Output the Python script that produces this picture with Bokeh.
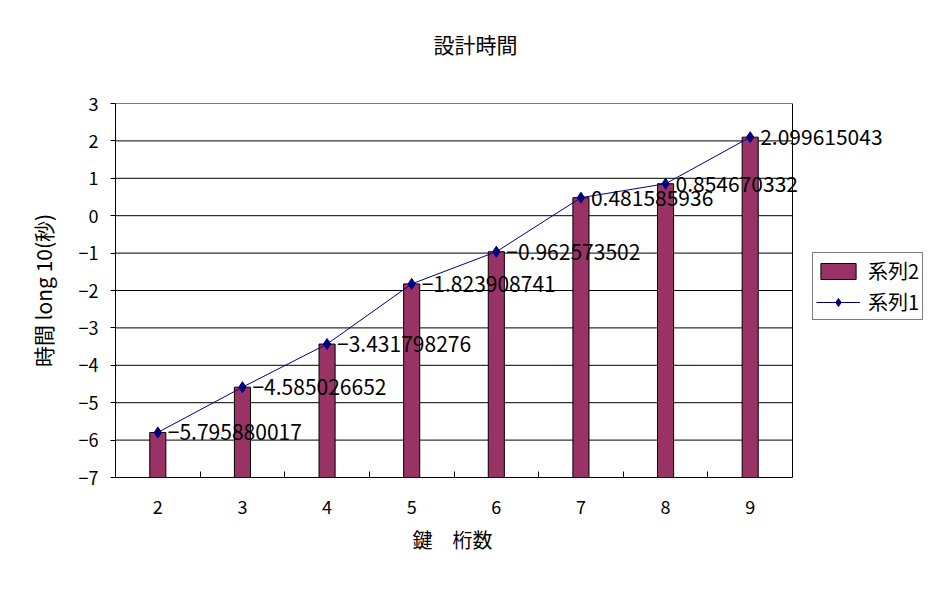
from bokeh.plotting import figure
from bokeh.models import (ColumnDataSource, FixedTicker, Range1d, Legend, LegendItem, Title)
from bokeh.core.properties import value
from bokeh.embed import file_html
from bokeh.resources import INLINE

digits = [2, 3, 4, 5, 6, 7, 8, 9]
series2 = [-5.795880017, -4.585026652, -3.431798276, -1.823908741,
           -0.962573502, 0.481585936, 0.854670332, 2.099615043]
series1 = [-5.795880017, -4.585026652, -3.431798276, -1.823908741,
           -0.962573502, 0.481585936, 0.854670332, 2.099615043]
labels = ["−5.795880017", "−4.585026652", "−3.431798276", "−1.823908741",
          "−0.962573502", "0.481585936", "0.854670332", "2.099615043"]
y_ticks = [-7, -6, -5, -4, -3, -2, -1, 0, 1, 2, 3]
base = -7

FONT = "Noto Sans CJK JP"

# plot-area extent in data units (categories 2..9, half a slot on each side)
x_lo, x_hi = digits[0] - 0.5, digits[-1] + 0.5
y_lo, y_hi = y_ticks[0], y_ticks[-1]

FRAME_L, AREA_W = 115, 677          # px: left edge and width of the bordered plot area
W, H = 937, 595
frame_w = W - FRAME_L - 2
x_end = x_lo + (x_hi - x_lo) * frame_w / AREA_W

src = ColumnDataSource(dict(x=digits, s2=series2, s1=series1, lab=labels,
                            base=[base] * len(digits)))

p = figure(width=W, height=H, output_backend="svg", toolbar_location=None,
           x_range=Range1d(x_lo, x_end), y_range=Range1d(y_lo, y_hi),
           min_border_left=FRAME_L, min_border_right=2,
           min_border_top=103, min_border_bottom=118)
p.background_fill_color = "white"
p.border_fill_color = "white"
p.outline_line_color = None

# a trailing blank line lifts the title away from the plot area
t = Title(text="設計時間\n ", text_font=FONT, text_font_size="21px",
          text_font_style="normal", text_color="black", align="left",
          offset=318, standoff=30)
p.add_layout(t, "above")

# gridlines and border of the plot area
p.xgrid.visible = False
p.ygrid.visible = False
p.segment(x0=[x_lo] * len(y_ticks), x1=[x_hi] * len(y_ticks), y0=y_ticks, y1=y_ticks,
          line_color="black", line_width=1)
p.segment(x0=[x_hi], x1=[x_hi], y0=[y_lo], y1=[y_hi], line_color="black", line_width=1)

bars = p.vbar(x="x", top="s2", bottom="base", width=0.19, source=src,
              fill_color="#993366", line_color="black", line_width=1)
line = p.line(x="x", y="s1", source=src, line_color="#000080", line_width=1)
pts = p.scatter(x="x", y="s1", source=src, marker="diamond", size=11,
                fill_color="#000080", line_color="#000080")
p.text(x="x", y="s1", text="lab", source=src, x_offset=10,
       text_baseline="middle", text_align="left", text_font=value(FONT),
       text_font_size="21px", text_color="black")

# x axis
xa = p.xaxis[0]
xa.bounds = (x_lo, x_hi)
xa.ticker = FixedTicker(ticks=digits, minor_ticks=[d + 0.5 for d in digits[:-1]])
xa.major_tick_in = 0
xa.major_tick_out = 0
xa.minor_tick_in = 6
xa.minor_tick_out = 0
xa.minor_tick_line_color = "black"
xa.axis_line_color = "black"
xa.major_label_text_font = FONT
xa.major_label_text_font_size = "18px"
xa.major_label_text_color = "black"
xa.major_label_standoff = 22

# x axis title, centred under the bordered plot area
xt = Title(text="鍵　桁数", text_font=FONT, text_font_size="20px",
           text_font_style="normal", text_color="black", align="left",
           offset=297, standoff=12)
p.add_layout(xt, "below")

# y axis
ya = p.yaxis[0]
ya.ticker = FixedTicker(ticks=y_ticks)
ya.major_label_overrides = {v: (str(v) if v >= 0 else "−" + str(-v)) for v in y_ticks}
ya.major_tick_in = 0
ya.major_tick_out = 5
ya.minor_tick_in = 0
ya.minor_tick_out = 0
ya.major_tick_line_color = "black"
ya.axis_line_color = "black"
ya.major_label_text_font = FONT
ya.major_label_text_font_size = "18px"
ya.major_label_text_color = "black"
ya.major_label_standoff = 12
ya.axis_label = "時間 long 10(秒)"
ya.axis_label_text_font = FONT
ya.axis_label_text_font_size = "21px"
ya.axis_label_text_font_style = "normal"
ya.axis_label_text_color = "black"
ya.axis_label_standoff = 18

legend = Legend(items=[LegendItem(label="系列2", renderers=[bars]),
                       LegendItem(label="系列1", renderers=[line, pts])],
                location=(697, 157), orientation="vertical",
                label_text_font=FONT, label_text_font_size="20px",
                label_text_color="black", glyph_width=44, glyph_height=20,
                label_height=20, spacing=2, padding=3, margin=0,
                label_standoff=8,
                border_line_color="black", border_line_width=1,
                background_fill_color="white", background_fill_alpha=1)
p.add_layout(legend, "center")

open("out.html", "w").write(file_html(p, INLINE))
